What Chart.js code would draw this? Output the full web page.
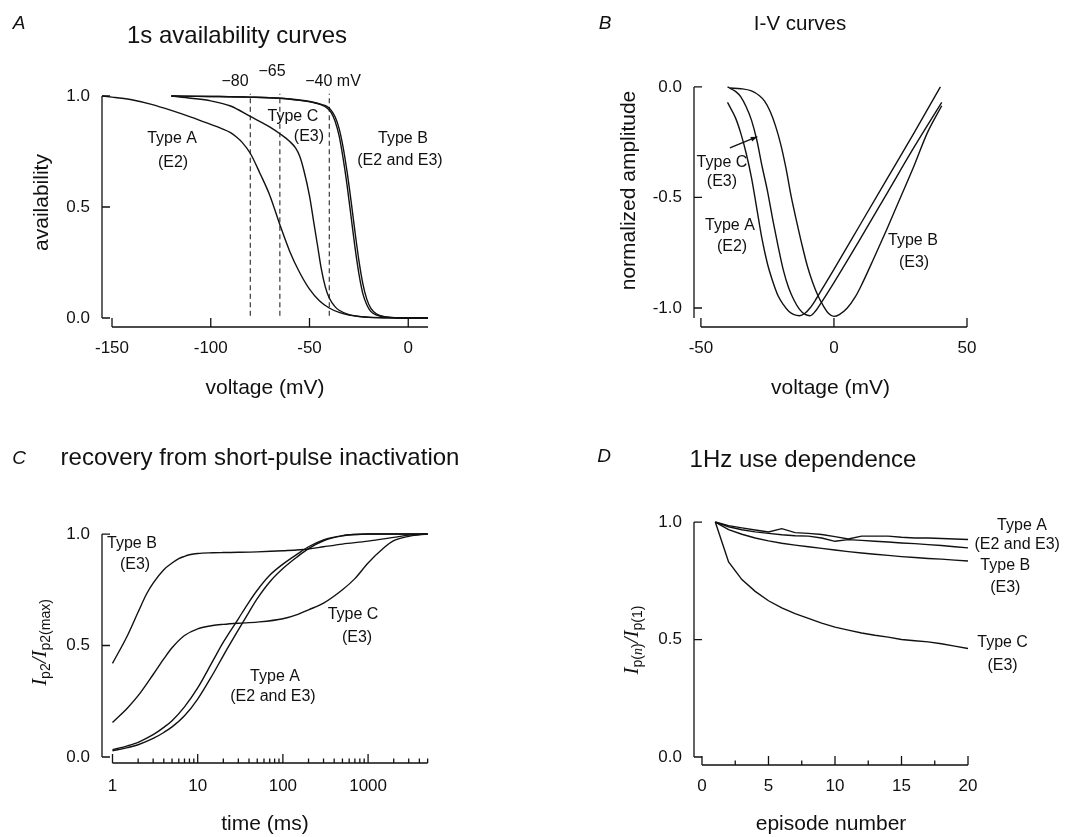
<!DOCTYPE html>
<html>
<head>
<meta charset="utf-8">
<title>Sodium channel types</title>
<script src="https://cdn.jsdelivr.net/npm/chart.js@4.4.1/dist/chart.umd.min.js"></script>
<style>
  body { margin: 0; background: #fff; }
  #page { position: relative; width: 1080px; height: 837px; overflow: hidden;
          font-family: "Liberation Sans", Arial, sans-serif; color: #111; }
  canvas { position: absolute; }
  .t { position: absolute; white-space: nowrap; transform: translate(-50%, -50%); }
  .letter { font-style: italic; font-size: 19px; }
  .title { font-size: 24px; }
</style>
</head>
<body>
<div id="page">
  <canvas id="chartA" width="540" height="418" style="left:0;top:0"></canvas>
  <canvas id="chartB" width="540" height="418" style="left:540px;top:0"></canvas>
  <canvas id="chartC" width="540" height="419" style="left:0;top:418px"></canvas>
  <canvas id="chartD" width="540" height="419" style="left:540px;top:418px"></canvas>

  <div class="t letter" style="left:19px;top:23px">A</div>
  <div class="t title" style="left:237px;top:35px">1s availability curves</div>
  <div class="t letter" style="left:605px;top:23px">B</div>
  <div class="t title" style="left:800px;top:23px;font-size:20.5px">I-V curves</div>
  <div class="t letter" style="left:19px;top:458px">C</div>
  <div class="t title" style="left:260px;top:457px">recovery from short-pulse inactivation</div>
  <div class="t letter" style="left:604px;top:456px">D</div>
  <div class="t title" style="left:803px;top:459px">1Hz use dependence</div>
</div>
<script>
'use strict';

// ---- A: 1 s availability curves ----
const voltTypeA = [-155, -150, -145, -140, -130, -120, -110, -100, -95, -90, -87, -84, -80, -75, -70, -65, -60, -55, -50, -45, -40, -35, -30, -20, -10, 0, 10];
const availTypeA = [1.0, 0.995, 0.99, 0.983, 0.962, 0.935, 0.905, 0.872, 0.855, 0.835, 0.815, 0.79, 0.742, 0.65, 0.55, 0.42, 0.3, 0.205, 0.13, 0.078, 0.045, 0.025, 0.013, 0.004, 0.001, 0, 0];
const voltTypeC = [-120, -110, -100, -90, -80, -70, -65, -60, -57, -55, -53, -50, -48, -46, -44, -42, -40, -37, -35, -30, -25, -20, -10, 0, 10];
const availTypeC = [1.0, 0.99, 0.978, 0.955, 0.908, 0.86, 0.83, 0.795, 0.765, 0.73, 0.67, 0.55, 0.44, 0.33, 0.22, 0.14, 0.09, 0.05, 0.035, 0.015, 0.007, 0.003, 0.001, 0, 0];
const voltTypeB = [-120, -100, -80, -65, -55, -48, -44, -41, -39, -37, -35, -33, -31, -29, -27, -25, -23, -21, -19, -16, -12, -5, 0, 10];
const availTypeB_E2 = [1.0, 0.998, 0.995, 0.99, 0.98, 0.97, 0.96, 0.945, 0.925, 0.885, 0.82, 0.72, 0.6, 0.46, 0.32, 0.2, 0.11, 0.06, 0.03, 0.013, 0.005, 0.001, 0, 0];
const availTypeB_E3 = [1.0, 0.998, 0.995, 0.99, 0.982, 0.972, 0.962, 0.952, 0.935, 0.905, 0.853, 0.77, 0.66, 0.53, 0.39, 0.26, 0.155, 0.085, 0.045, 0.018, 0.006, 0.001, 0, 0];
const holdingPotentials = [-80, -65, -40];
const holdingSpan = [0.01, 1.01];
const availTicksX = [-150, -100, -50, 0];
const availTicksY = [0, 0.5, 1];

// ---- B: I-V curves ----
const ivVoltA = [-40, -37, -35, -33, -31, -29, -27, -25, -23, -21, -19, -17, -15, -13, -11, -9, -7, -5, 0, 10, 20, 30, 40];
const ivAmpA = [-0.07, -0.14, -0.21, -0.3, -0.41, -0.55, -0.69, -0.8, -0.88, -0.945, -0.985, -1.015, -1.03, -1.035, -1.025, -1.0, -0.965, -0.925, -0.825, -0.62, -0.415, -0.21, 0.0];
const ivVoltC = [-40, -37, -35, -33, -31, -29, -27, -25, -23, -21, -19, -17, -15, -13, -11, -9, -7, -5, 0, 10, 20, 30, 40.5];
const ivAmpC = [0.0, -0.02, -0.045, -0.09, -0.15, -0.24, -0.36, -0.47, -0.6, -0.72, -0.83, -0.91, -0.965, -1.005, -1.028, -1.035, -1.015, -0.98, -0.885, -0.685, -0.48, -0.275, -0.07];
const ivVoltB = [-39, -35, -31, -28, -26, -24, -22, -20, -18, -16, -14, -12, -10, -8, -6, -4, -2, 0, 2, 5, 8, 10, 15, 20, 25, 30, 35, 40.5];
const ivAmpB = [-0.005, -0.008, -0.018, -0.04, -0.065, -0.11, -0.175, -0.26, -0.37, -0.5, -0.61, -0.715, -0.81, -0.885, -0.945, -0.99, -1.025, -1.038, -1.03, -1.0, -0.95, -0.905, -0.775, -0.64, -0.5, -0.36, -0.21, -0.085];
const ivTicksX = [-50, 0, 50];
const ivTicksY = [-1, -0.5, 0];

// ---- C: recovery from short-pulse inactivation ----
const recTimeA = [1, 1.5, 2, 3, 4, 5, 7, 10, 15, 20, 30, 40, 50, 70, 100, 150, 200, 300, 500, 700, 1000, 2000, 5000];
const recTypeA_E2 = [0.033, 0.05, 0.066, 0.1, 0.133, 0.163, 0.225, 0.31, 0.43, 0.515, 0.62, 0.695, 0.748, 0.815, 0.865, 0.912, 0.943, 0.974, 0.993, 0.998, 1.0, 1.0, 1.0];
const recTypeA_E3 = [0.028, 0.042, 0.055, 0.083, 0.11, 0.135, 0.185, 0.26, 0.37, 0.455, 0.57, 0.65, 0.71, 0.785, 0.845, 0.9, 0.935, 0.97, 0.992, 0.998, 1.0, 1.0, 1.0];
const recTimeB = [1, 1.5, 2, 2.5, 3, 4, 5, 6, 7, 8, 10, 15, 20, 30, 50, 100, 200, 300, 500, 1000, 2000, 3000, 5000];
const recTypeB = [0.42, 0.545, 0.65, 0.73, 0.78, 0.84, 0.87, 0.89, 0.9, 0.907, 0.913, 0.916, 0.917, 0.918, 0.92, 0.925, 0.933, 0.943, 0.955, 0.968, 0.985, 0.995, 1.0];
const recTimeC = [1, 1.5, 2, 3, 4, 5, 7, 10, 15, 20, 30, 50, 100, 150, 200, 300, 500, 700, 1000, 1500, 2000, 3000, 5000];
const recTypeC = [0.155, 0.22, 0.275, 0.37, 0.44, 0.49, 0.545, 0.575, 0.59, 0.595, 0.6, 0.605, 0.62, 0.64, 0.66, 0.69, 0.75, 0.8, 0.87, 0.935, 0.97, 0.99, 1.0];
const recTicksX = [1, 10, 100, 1000];
const recMinorX = [2, 3, 4, 5, 6, 7, 8, 9, 20, 30, 40, 50, 60, 70, 80, 90, 200, 300, 400, 500, 600, 700, 800, 900, 2000, 3000, 4000, 5000];
const recTicksY = [0, 0.5, 1];

// ---- D: 1 Hz use dependence ----
const episodes = [1, 2, 3, 4, 5, 6, 7, 8, 9, 10, 11, 12, 13, 14, 15, 16, 17, 18, 19, 20];
const useTypeA_E2 = [1.0, 0.985, 0.975, 0.966, 0.958, 0.972, 0.955, 0.952, 0.947, 0.938, 0.928, 0.94, 0.94, 0.94, 0.935, 0.932, 0.932, 0.93, 0.928, 0.926];
const useTypeA_E3 = [1.0, 0.98, 0.967, 0.958, 0.952, 0.946, 0.942, 0.94, 0.932, 0.918, 0.925, 0.922, 0.918, 0.915, 0.911, 0.908, 0.904, 0.9, 0.895, 0.89];
const useTypeB = [1.0, 0.968, 0.948, 0.932, 0.92, 0.91, 0.902, 0.895, 0.888, 0.881, 0.874, 0.868, 0.863, 0.858, 0.853, 0.849, 0.845, 0.842, 0.838, 0.834];
const useTypeC = [1.0, 0.83, 0.755, 0.705, 0.665, 0.635, 0.61, 0.59, 0.57, 0.553, 0.54, 0.528, 0.518, 0.51, 0.5, 0.495, 0.49, 0.482, 0.472, 0.462];
const useTicksX = [0, 5, 10, 15, 20];
const useMinorX = [2.5, 7.5, 12.5, 17.5];
const useTicksY = [0, 0.5, 1];

const FONT = '"Liberation Sans", Arial, sans-serif';
const SERIF = '"Liberation Serif", "Times New Roman", serif';
const INK = '#111';

Chart.defaults.font.family = FONT;
Chart.defaults.color = INK;

function line(xs, ys, smooth) {
  return {
    data: xs.map((x, i) => ({ x: x, y: ys[i] })),
    borderColor: INK,
    borderWidth: 1.4,
    pointRadius: 0,
    fill: false,
    tension: 0,
    cubicInterpolationMode: smooth ? 'monotone' : 'default'
  };
}

function dashed(v) {
  return {
    data: [{ x: v, y: holdingSpan[0] }, { x: v, y: holdingSpan[1] }],
    borderColor: INK,
    borderWidth: 1,
    borderDash: [5, 3.5],
    pointRadius: 0,
    fill: false
  };
}

function xAxis(type, min, max, ticks, title, height, tickPad, titlePad) {
  return {
    type: type, min: min, max: max, position: 'bottom',
    afterBuildTicks: s => { s.ticks = ticks.map(v => ({ value: v })); },
    afterFit: s => { s.height = height; },
    grid: { display: false, drawTicks: false },
    border: { display: false },
    ticks: { font: { size: 17 }, color: INK, padding: tickPad, maxRotation: 0, autoSkip: false,
             callback: v => String(v) },
    title: { display: true, text: title, font: { size: 21 }, color: INK,
             padding: { top: 0, bottom: titlePad } }
  };
}

function yAxis(min, max, ticks, title, width, titlePad) {
  return {
    type: 'linear', min: min, max: max, position: 'left',
    afterBuildTicks: s => { s.ticks = ticks.map(v => ({ value: v })); },
    afterFit: s => { s.width = width; },
    grid: { display: false, drawTicks: false },
    border: { display: false },
    ticks: { font: { size: 17 }, color: INK, padding: 12, autoSkip: false,
             callback: v => v.toFixed(1) },
    title: { display: !!title, text: title, font: { size: 21 }, color: INK,
             padding: { top: titlePad, bottom: 0 } }
  };
}

// axis lines with inward ticks, offset from each other like the original figure
function frame(f) {
  return {
    id: 'frame',
    afterDraw(chart) {
      const ctx = chart.ctx;
      const xs = chart.scales.x, ys = chart.scales.y;
      const left = chart.chartArea.left, bottom = chart.chartArea.bottom;
      ctx.save();
      ctx.strokeStyle = INK;
      ctx.lineWidth = 1.3;
      ctx.beginPath();
      ctx.moveTo(left, ys.getPixelForValue(f.yFrom));
      ctx.lineTo(left, ys.getPixelForValue(f.yTo));
      ctx.moveTo(xs.getPixelForValue(f.xFrom), bottom);
      ctx.lineTo(xs.getPixelForValue(f.xTo), bottom);
      f.yMajor.forEach(v => {
        const p = ys.getPixelForValue(v);
        ctx.moveTo(left, p); ctx.lineTo(left + 8, p);
      });
      f.xMajor.forEach(v => {
        const p = xs.getPixelForValue(v);
        ctx.moveTo(p, bottom); ctx.lineTo(p, bottom - 9);
      });
      (f.xMinor || []).forEach(v => {
        const p = xs.getPixelForValue(v);
        ctx.moveTo(p, bottom); ctx.lineTo(p, bottom - 4.5);
      });
      ctx.stroke();
      ctx.restore();
    }
  };
}

function notes(items, arrows) {
  return {
    id: 'notes',
    afterDraw(chart) {
      const ctx = chart.ctx;
      const xs = chart.scales.x, ys = chart.scales.y;
      ctx.save();
      ctx.fillStyle = INK;
      ctx.font = '16px ' + FONT;
      ctx.textAlign = 'center';
      ctx.textBaseline = 'middle';
      items.forEach(n => ctx.fillText(n.text, xs.getPixelForValue(n.x), ys.getPixelForValue(n.y)));
      ctx.strokeStyle = INK;
      ctx.lineWidth = 1.3;
      arrows.forEach(a => {
        const x0 = xs.getPixelForValue(a.from[0]), y0 = ys.getPixelForValue(a.from[1]);
        const x1 = xs.getPixelForValue(a.to[0]), y1 = ys.getPixelForValue(a.to[1]);
        const ang = Math.atan2(y1 - y0, x1 - x0);
        ctx.beginPath();
        ctx.moveTo(x0, y0); ctx.lineTo(x1, y1);
        ctx.stroke();
        ctx.beginPath();
        ctx.moveTo(x1, y1);
        ctx.lineTo(x1 - 7 * Math.cos(ang - 0.35), y1 - 7 * Math.sin(ang - 0.35));
        ctx.lineTo(x1 - 7 * Math.cos(ang + 0.35), y1 - 7 * Math.sin(ang + 0.35));
        ctx.closePath();
        ctx.fill();
      });
      ctx.restore();
    }
  };
}

// rotated y title with italic I and subscripts
function richYTitle(parts, gap) {
  return {
    id: 'richYTitle',
    afterDraw(chart) {
      const ctx = chart.ctx, area = chart.chartArea;
      ctx.save();
      ctx.translate(area.left - gap, (area.top + area.bottom) / 2);
      ctx.rotate(-Math.PI / 2);
      ctx.fillStyle = INK;
      ctx.textBaseline = 'alphabetic';
      let total = 0;
      parts.forEach(p => { ctx.font = p.font; total += ctx.measureText(p.text).width; });
      let x = -total / 2;
      parts.forEach(p => {
        ctx.font = p.font;
        ctx.fillText(p.text, x, p.sub ? 10.5 : 6.5);
        x += ctx.measureText(p.text).width;
      });
      ctx.restore();
    }
  };
}

const baseOptions = {
  responsive: false,
  animation: false,
  events: [],
  plugins: { legend: { display: false }, tooltip: { enabled: false } }
};

// ---- chart A ----
new Chart(document.getElementById('chartA'), {
  type: 'line',
  data: {
    datasets: [
      line(voltTypeA, availTypeA, true),
      line(voltTypeC, availTypeC, true),
      line(voltTypeB, availTypeB_E2, true),
      line(voltTypeB, availTypeB_E3, true)
    ].concat(holdingPotentials.map(dashed))
  },
  options: Object.assign({}, baseOptions, {
    layout: { padding: { left: 0, right: 112, top: 78, bottom: 0 } },
    scales: {
      x: xAxis('linear', -155.07, 10, availTicksX, 'voltage (mV)', 91, 11, 17),
      y: yAxis(-0.0405, 1.081, availTicksY, 'availability', 102, 30)
    }
  }),
  plugins: [
    frame({ xFrom: -150, xTo: 10, yFrom: 0, yTo: 1, xMajor: availTicksX, yMajor: availTicksY }),
    notes([
      { text: 'Type A', x: -119.6, y: 0.81 },
      { text: '(E2)', x: -119.1, y: 0.70 },
      { text: 'Type C', x: -58.4, y: 0.905 },
      { text: '(E3)', x: -50.3, y: 0.815 },
      { text: 'Type B', x: -2.7, y: 0.81 },
      { text: '(E2 and E3)', x: -4.2, y: 0.707 },
      { text: '\u221280', x: -87.7, y: 1.063 },
      { text: '\u221265', x: -69, y: 1.108 },
      { text: '\u221240 mV', x: -38.1, y: 1.063 }
    ], [])
  ]
});

// ---- chart B ----
new Chart(document.getElementById('chartB'), {
  type: 'line',
  data: {
    datasets: [
      line(ivVoltA, ivAmpA, true),
      line(ivVoltC, ivAmpC, true),
      line(ivVoltB, ivAmpB, true)
    ]
  },
  options: Object.assign({}, baseOptions, {
    layout: { padding: { left: 0, right: 113, top: 54, bottom: 0 } },
    scales: {
      x: xAxis('linear', -52.6, 50, ivTicksX, 'voltage (mV)', 91, 11, 17),
      y: yAxis(-1.086, 0.149, ivTicksY, 'normalized amplitude', 154, 77)
    }
  }),
  plugins: [
    frame({ xFrom: -50, xTo: 50, yFrom: -1.045, yTo: 0, xMajor: ivTicksX, yMajor: ivTicksY }),
    notes([
      { text: 'Type C', x: -42.1, y: -0.344 },
      { text: '(E3)', x: -42.1, y: -0.43 },
      { text: 'Type A', x: -39.1, y: -0.629 },
      { text: '(E2)', x: -38.3, y: -0.724 },
      { text: 'Type B', x: 29.7, y: -0.697 },
      { text: '(E3)', x: 30.1, y: -0.796 }
    ], [
      { from: [-39.1, -0.276], to: [-28.8, -0.225] }
    ])
  ]
});

// ---- chart C ----
new Chart(document.getElementById('chartC'), {
  type: 'line',
  data: {
    datasets: [
      line(recTimeA, recTypeA_E2, true),
      line(recTimeA, recTypeA_E3, true),
      line(recTimeB, recTypeB, true),
      line(recTimeC, recTypeC, true)
    ]
  },
  options: Object.assign({}, baseOptions, {
    layout: { padding: { left: 0, right: 112, top: 104, bottom: 0 } },
    scales: {
      x: xAxis('logarithmic', 0.753, 5050, recTicksX, 'time (ms)', 74, 13, 0),
      y: yAxis(-0.0269, 1.054, recTicksY, '', 102, 0)
    }
  }),
  plugins: [
    frame({ xFrom: 1, xTo: 5000, yFrom: 0, yTo: 1, xMajor: recTicksX, xMinor: recMinorX, yMajor: recTicksY }),
    notes([
      { text: 'Type B', x: 1.69, y: 0.955 },
      { text: '(E3)', x: 1.84, y: 0.861 },
      { text: 'Type C', x: 665, y: 0.637 },
      { text: '(E3)', x: 741, y: 0.534 },
      { text: 'Type A', x: 80.8, y: 0.359 },
      { text: '(E2 and E3)', x: 76.5, y: 0.269 }
    ], []),
    richYTitle([
      { text: 'I', font: 'italic 21px ' + SERIF },
      { text: 'p2', font: '14px ' + FONT, sub: true },
      { text: '/', font: 'italic 21px ' + SERIF },
      { text: 'I', font: 'italic 21px ' + SERIF },
      { text: 'p2(max)', font: '14px ' + FONT, sub: true }
    ], 63)
  ]
});

// ---- chart D ----
new Chart(document.getElementById('chartD'), {
  type: 'line',
  data: {
    datasets: [
      line(episodes, useTypeA_E2, false),
      line(episodes, useTypeA_E3, false),
      line(episodes, useTypeB, false),
      line(episodes, useTypeC, false)
    ]
  },
  options: Object.assign({}, baseOptions, {
    layout: { padding: { left: 0, right: 112, top: 97, bottom: 0 } },
    scales: {
      x: xAxis('linear', -0.6, 20, useTicksX, 'episode number', 72, 11, 0),
      y: yAxis(-0.034, 1.03, useTicksY, '', 154, 0)
    }
  }),
  plugins: [
    frame({ xFrom: 0, xTo: 20, yFrom: 0, yTo: 1, xMajor: useTicksX, xMinor: useMinorX, yMajor: useTicksY }),
    notes([
      { text: 'Type A', x: 24.06, y: 0.987 },
      { text: '(E2 and E3)', x: 23.7, y: 0.906 },
      { text: 'Type B', x: 22.8, y: 0.813 },
      { text: '(E3)', x: 22.8, y: 0.723 },
      { text: 'Type C', x: 22.6, y: 0.489 },
      { text: '(E3)', x: 22.6, y: 0.391 }
    ], []),
    richYTitle([
      { text: 'I', font: 'italic 21px ' + SERIF },
      { text: 'p(', font: '14px ' + FONT, sub: true },
      { text: 'n', font: 'italic 14px ' + SERIF, sub: true },
      { text: ')', font: '14px ' + FONT, sub: true },
      { text: '/', font: 'italic 21px ' + SERIF },
      { text: 'I', font: 'italic 21px ' + SERIF },
      { text: 'p(1)', font: '14px ' + FONT, sub: true }
    ], 63)
  ]
});
</script>
</body>
</html>
